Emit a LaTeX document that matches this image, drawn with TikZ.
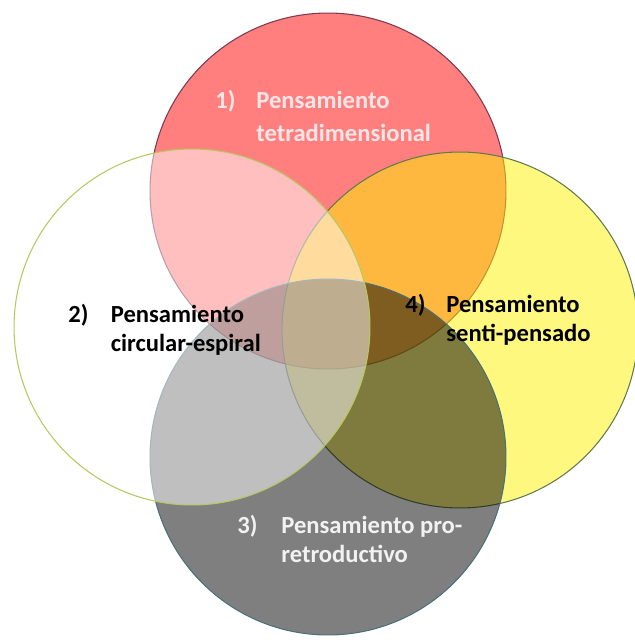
\documentclass[tikz,border=0pt]{standalone}
\usepackage{fontspec}
\setmainfont{Carlito}
\usepackage{tikz}
\usetikzlibrary{positioning}
\definecolor{redline}{RGB}{122,58,80}
\definecolor{yellowline}{RGB}{96,122,80}
\definecolor{grayline}{RGB}{74,112,120}
\definecolor{whiteline}{RGB}{184,200,96}
\definecolor{lightlabel}{RGB}{255,230,230}
\definecolor{greylabel}{RGB}{242,242,242}

\begin{document}
\begin{tikzpicture}
		[x=0.02cm,y=-0.02cm,
		vennset/.style={circle,inner sep=0pt,minimum size=7.12cm,fill opacity=0.5,line width=0.6pt},
		venntext/.style={inner sep=0pt,anchor=base west,font=\fontsize{14}{17}\selectfont\bfseries}]
		\useasboundingbox (0,0) rectangle (635,643);
		\node[vennset,fill=red,draw=redline] (tetra) at (328,191) {};
		\node[vennset,fill=yellow,draw=yellowline] (senti) at (460,330) {};
		\node[vennset,fill=black,draw=grayline] (pro) at (328,457) {};
		\node[vennset,fill=white,draw=whiteline] (circular) at (192,327) {};
		\node[venntext,text=lightlabel] (tetratext) at (215,108)
			{\begin{tabular}[t]{@{}p{0.82cm}@{}l@{}}1)&Pensamiento\\[2pt]&tetradimensional\end{tabular}};
		\node[venntext] (circulartext) at (68,322)
			{\begin{tabular}[t]{@{}p{0.85cm}@{}l@{}}2)&Pensamiento\\&circular-espiral\end{tabular}};
		\node[venntext,text=greylabel] (protext) at (237,533)
			{\begin{tabular}[t]{@{}p{0.88cm}@{}l@{}}3)&Pensamiento pro-\\&retroductivo\end{tabular}};
		\node[venntext] (sentitext) at (405,312)
			{\begin{tabular}[t]{@{}p{0.82cm}@{}l@{}}4)&Pensamiento\\&senti-pensado\end{tabular}};
\end{tikzpicture}
\end{document}
